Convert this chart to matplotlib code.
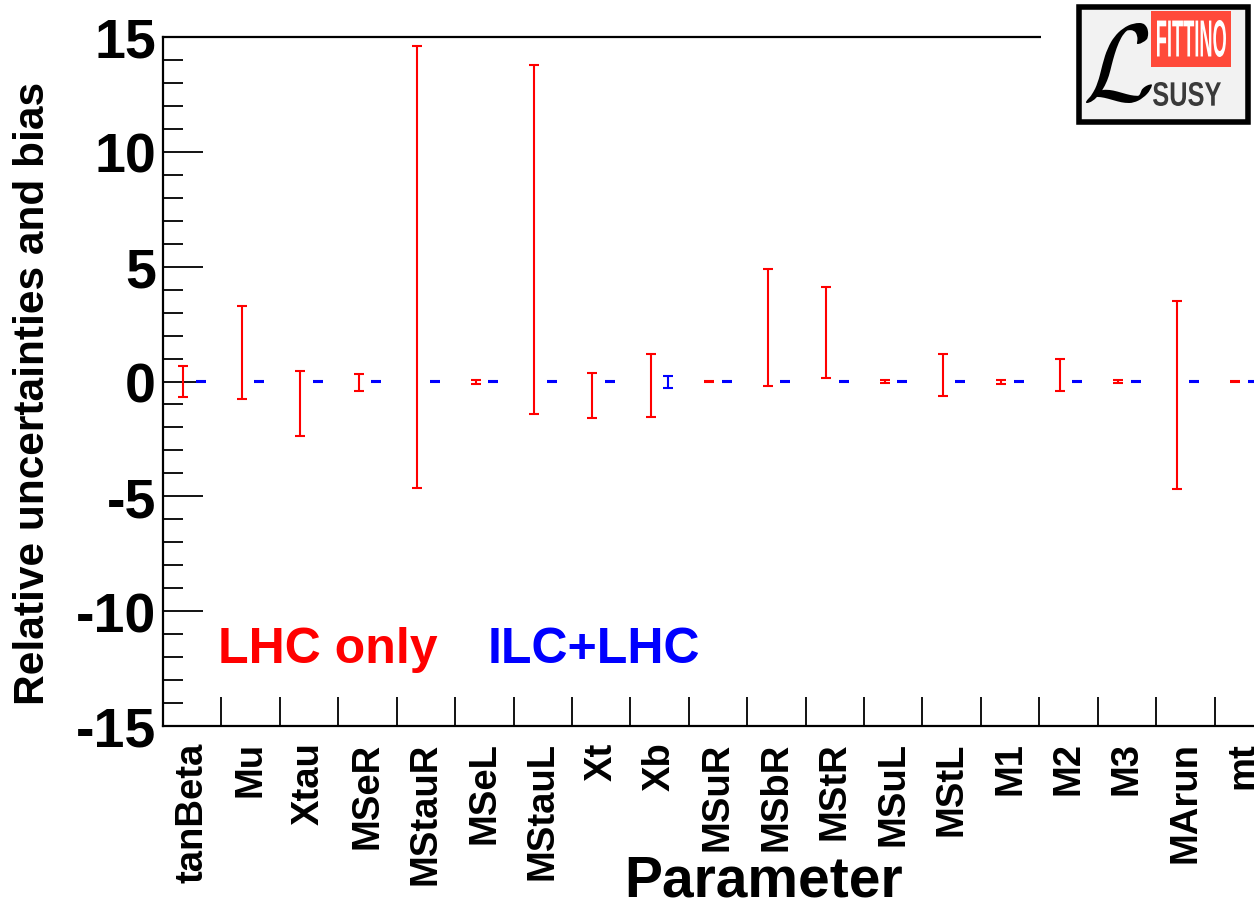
import matplotlib
matplotlib.use("Agg")
import matplotlib.pyplot as plt
from matplotlib.patches import Rectangle, PathPatch
from matplotlib.textpath import TextPath
from matplotlib.font_manager import FontProperties
from matplotlib.transforms import Affine2D
import numpy as np

plt.rcParams['font.family'] = ['Liberation Sans', 'DejaVu Sans']
plt.rcParams['font.weight'] = 'bold'
plt.rcParams['axes.unicode_minus'] = False

# parameters and the error ranges (lower / upper edge of each bar)
params = ['tanBeta', 'Mu', 'Xtau', 'MSeR', 'MStauR', 'MSeL', 'MStauL', 'Xt', 'Xb',
          'MSuR', 'MSbR', 'MStR', 'MSuL', 'MStL', 'M1', 'M2', 'M3', 'MArun', 'mt']
lhc_lo = [-0.67, -0.76, -2.37, -0.40, -4.64, -0.10, -1.43, -1.57, -1.53,
          -0.04, -0.20, 0.17, -0.05, -0.63, -0.10, -0.40, -0.05, -4.68, -0.03]
lhc_hi = [0.69, 3.29, 0.46, 0.31, 14.6, 0.08, 13.8, 0.37, 1.20,
          0.04, 4.90, 4.10, 0.05, 1.20, 0.08, 0.98, 0.05, 3.50, 0.03]
ilc_lo = [-0.02, -0.02, -0.02, -0.02, -0.02, -0.02, -0.02, -0.02, -0.28,
          -0.02, -0.02, -0.02, -0.02, -0.02, -0.02, -0.02, -0.02, -0.02, -0.02]
ilc_hi = [0.02, 0.02, 0.02, 0.02, 0.02, 0.02, 0.02, 0.02, 0.25,
          0.02, 0.02, 0.02, 0.02, 0.02, 0.02, 0.02, 0.02, 0.02, 0.02]

W, H = 1254, 903
fig = plt.figure(figsize=(W / 100, H / 100), dpi=100)
# frame runs past the right edge of the canvas, like the original
ax = fig.add_axes([163 / W, 176 / H, 1110 / W, 689 / H])

n = len(params)
idx = np.arange(n)


def bars(lo, hi, off, col):
    lo = np.array(lo)
    hi = np.array(hi)
    mid = (lo + hi) / 2
    ax.errorbar(idx + 0.5 + off, mid, yerr=[mid - lo, hi - mid], fmt='none',
                ecolor=col, elinewidth=1.5, capsize=3.3, capthick=1.5)


bars(lhc_lo, lhc_hi, -0.15, '#ff0000')
bars(ilc_lo, ilc_hi, 0.15, '#0000ff')

ax.set_xlim(0, n)
ax.set_ylim(-15, 15)
ax.set_xticks(idx[1:], minor=False)
ax.set_xticklabels([])
ax.set_xticks(idx + 0.5, minor=True)
ax.set_xticklabels(params, minor=True, rotation=90, fontsize=27.5, fontweight='bold')
ax.tick_params(axis='x', which='major', direction='in', length=21, width=1.3)
ax.tick_params(axis='x', which='minor', length=0, pad=11)

ax.set_yticks(np.arange(-15, 16, 5))
ax.set_yticks(np.arange(-15, 16, 1), minor=True)
ax.tick_params(axis='y', which='major', direction='in', length=29, width=1.3,
               labelsize=40, pad=5)
ax.tick_params(axis='y', which='minor', direction='in', length=14.5, width=1.3)
for lab in ax.get_yticklabels():
    lab.set_fontweight('bold')

for s in ['left', 'bottom', 'top']:
    ax.spines[s].set_linewidth(1.6)
ax.spines['right'].set_visible(False)

ax.text(0.95, -12.2, 'LHC only', color='#ff0000', fontsize=36, fontweight='bold',
        va='baseline', ha='left')
ax.text(5.55, -12.2, 'ILC+LHC', color='#0000ff', fontsize=36, fontweight='bold',
        va='baseline', ha='left')

fig.text(764 / W, 6 / H, 'Parameter', fontsize=41, fontweight='bold',
         ha='center', va='baseline')
fig.text(33 / W, 1 - 393 / H, 'Relative uncertainties and bias', fontsize=30.5,
         fontweight='bold', rotation=90, ha='center', va='center')

# logo overlay in pixel coordinates
ov = fig.add_axes([0, 0, 1, 1], zorder=10)
ov.set_xlim(0, W)
ov.set_ylim(H, 0)
ov.axis('off')


def fit_text(s, x0, y0, x1, y1, color, prop):
    # squeeze a text outline into the pixel box (x0, y0)-(x1, y1)
    p = TextPath((0, 0), s, size=100, prop=prop)
    bb = p.get_extents()
    tr = Affine2D().translate(-bb.x0, -bb.y0).scale((x1 - x0) / bb.width,
                                                     -(y1 - y0) / bb.height).translate(x0, y1)
    ov.add_patch(PathPatch(tr.transform_path(p), facecolor=color, edgecolor='none'))


ov.add_patch(Rectangle((1041, 0), W - 1041, 132, facecolor='white', edgecolor='none'))
ov.add_patch(Rectangle((1079, 8), 169, 115, facecolor='#f2f2f2', edgecolor='black', linewidth=4))
ov.add_patch(Rectangle((1151, 12), 80, 56, facecolor='#ff4a3a', edgecolor='none'))
fit_text('FITTINO', 1157, 21, 1226, 58, 'white', FontProperties(family='Liberation Sans'))
fit_text('SUSY', 1153, 83, 1221, 107, '#3a3a3a', FontProperties(family='Liberation Sans'))
fit_text(r'$\mathcal{L}$', 1086, 24, 1152, 104, 'black',
         FontProperties(family='Liberation Sans', weight='bold', math_fontfamily='cm'))

fig.savefig('out.png', dpi=100)
